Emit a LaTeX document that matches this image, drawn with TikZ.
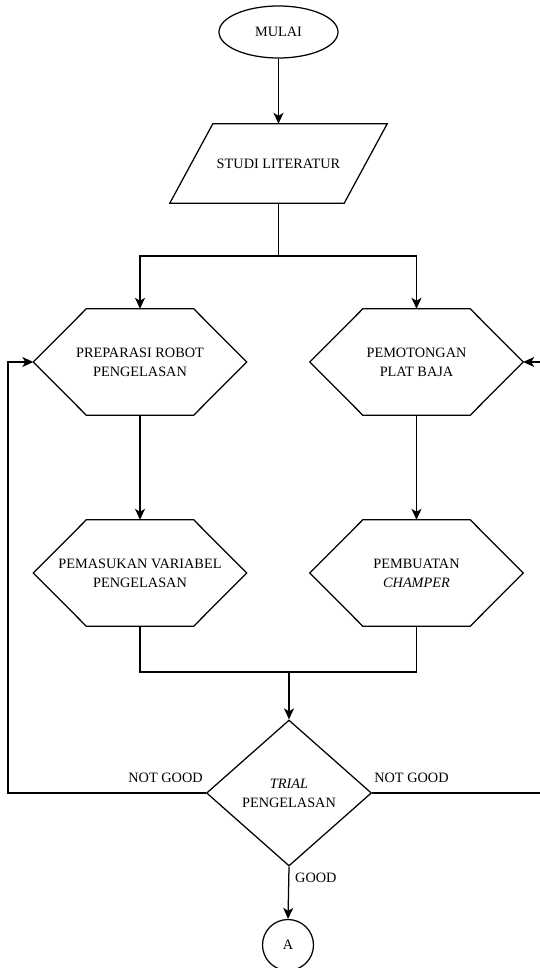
\documentclass[tikz,border=0pt]{standalone}
\usepackage{fontspec}
\setmainfont{Liberation Serif}
\usetikzlibrary{shapes.geometric,arrows.meta,calc}
\begin{document}
\begin{tikzpicture}[x=1pt,y=-1pt,
  every node/.style={font=\fontsize{14.3}{19}\selectfont, align=center, inner sep=0pt},
  box/.style={draw, line width=1.25pt},
  hexa/.style={shape=rectangle, minimum width=213pt, minimum height=106pt},
  para/.style={shape=rectangle, minimum width=217pt, minimum height=79pt},
  arr/.style={line width=1.25pt, -{Stealth[length=11pt,width=10pt,inset=3pt]}},
  ln/.style={line width=1.25pt, line join=miter},
  lbl/.style={font=\fontsize{14.3}{16}\selectfont}]
\useasboundingbox (0,0) rectangle (540,968);
\node[box, ellipse, minimum width=119pt, minimum height=52pt] (mulai) at (278.5,32) {MULAI};
\node[para] (studi) at (278.5,163.5) {STUDI LITERATUR};
\node[hexa] (prep) at (140,362) {PREPARASI ROBOT\\PENGELASAN};
\node[hexa] (pot) at (416.5,362) {PEMOTONGAN\\PLAT BAJA};
\node[hexa] (pem) at (140,573) {PEMASUKAN VARIABEL\\PENGELASAN};
\node[hexa] (cham) at (416.5,573) {PEMBUATAN\\\textit{CHAMPER}};
\node[box, diamond, minimum width=165pt, minimum height=146pt] (trial) at (289,793) {\textit{TRIAL}\\PENGELASAN};
\node[box, circle, minimum size=51pt] (A) at (288,945) {A};

% outlines of the parallelogram and hexagons
\draw[ln] (studi.south west) -- ($(studi.north west)+(43,0)$) -- (studi.north east)
  -- ($(studi.south east)+(-43,0)$) -- cycle;
\foreach \n in {prep,pot,pem,cham}{
  \draw[ln] (\n.west) -- ($(\n.north west)+(53,0)$) -- ($(\n.north east)+(-53,0)$)
    -- (\n.east) -- ($(\n.south east)+(-53,0)$) -- ($(\n.south west)+(53,0)$) -- cycle;
}

\coordinate (sp) at (278.5,256);
\coordinate (mg) at (289,672);
\coordinate (lb) at (8,793);
\coordinate (lt) at (8,362);
\coordinate (rb) at (541,793);
\coordinate (rt) at (541,362);

\draw[arr] (mulai) -- (studi);
\draw[arr] (studi.south) -- (sp) -| (prep.north);
\draw[arr] (sp) -| (pot.north);
\draw[arr] (prep) -- (pem);
\draw[arr] (pot) -- (cham);
\draw[ln] (pem.south) |- (mg);
\draw[ln] (cham.south) |- (mg);
\draw[arr] (mg) -- (trial.north);
\draw[arr] (trial.west) -- (lb) -- (lt) -- (prep.west);
\draw[arr] (trial.east) -- (rb) -- (rt) -- (pot.east);
\draw[arr] (trial.south) -- (A.north);
\node[lbl, anchor=base east] (ng1) at ($(trial.west)+(-3,-11)$) {NOT GOOD};
\node[lbl, anchor=base west] (ng2) at ($(trial.east)+(2,-11)$) {NOT GOOD};
\node[lbl, anchor=base west] (gd) at ($(trial.south)+(6,16)$) {GOOD};
\end{tikzpicture}
\end{document}
